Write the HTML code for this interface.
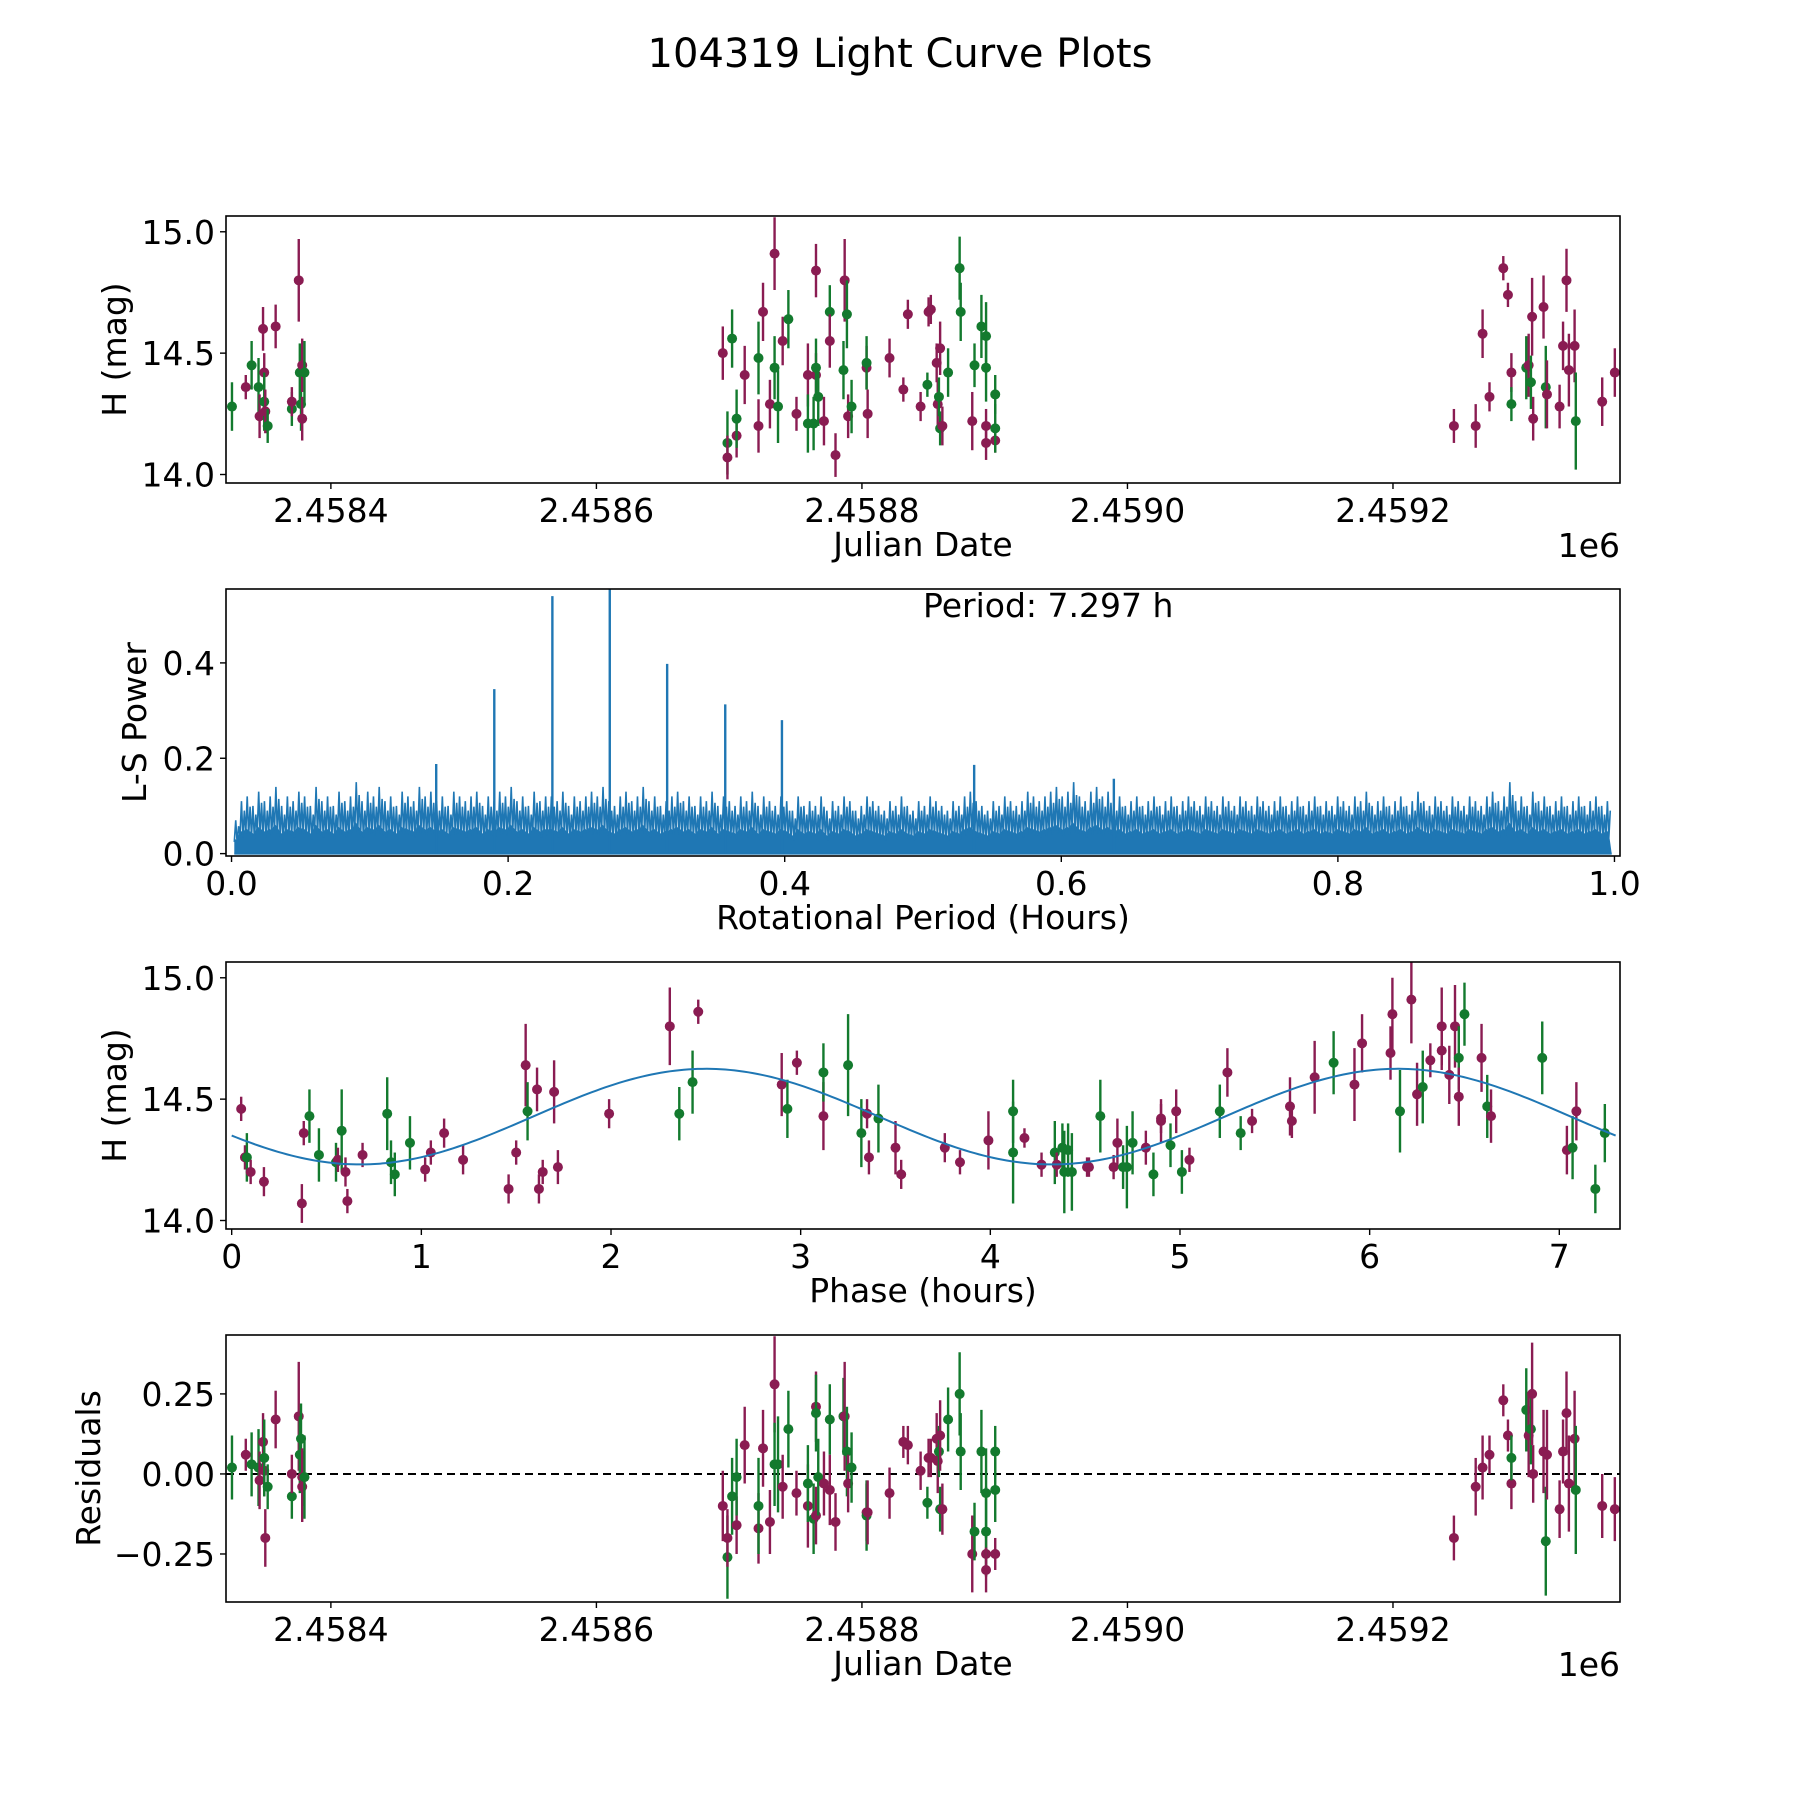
<!DOCTYPE html>
<html><head><meta charset="utf-8"><style>
html,body{margin:0;padding:0;background:#fff;}
svg{display:block;font-family:"DejaVu Sans","Liberation Sans",sans-serif;}
</style></head><body>
<svg id="fig" width="1800" height="1800" viewBox="0 0 1800 1800" xmlns="http://www.w3.org/2000/svg">
<rect width="1800" height="1800" fill="#fff"/>
<text x="900" y="67" font-size="40" text-anchor="middle">104319 Light Curve Plots</text>
</svg>
<script>
// ---- Panel 1 / 4 data: Julian date offsets (JD - 2458000), magnitudes, residuals ----
const obsJd = [325.5,335.9,340.3,345.5,346.3,348.9,349.8,349.8,350.6,352.4,358.4,370.6,370.6,375.8,376.6,377.5,378.4,378.4,380.1,
695.2,698.7,698.7,702.2,705.6,705.6,711.7,722.1,722.1,725.5,730.7,734.2,734.2,736.8,740.3,744.6,750.7,759.3,759.3,763.6,765.4,765.4,765.4,767.1,771.4,775.8,775.8,780.1,786.1,787.0,788.7,789.6,792.2,803.5,803.5,804.3,820.8,831.2,834.6,844.2,849.3,850.2,851.9,856.3,857.1,858.0,858.9,858.9,860.6,864.9,873.6,874.4,883.1,884.8,890.0,893.5,893.5,893.5,893.5,900.4,900.4,900.4,
1245.9,1262.3,1267.5,1272.7,1283.1,1286.6,1289.2,1289.2,1300.4,1302.2,1303.9,1304.8,1305.6,1313.4,1315.1,1316.0,1325.5,1328.1,1330.7,1332.5,1336.8,1337.7,1357.6,1367.1];
const obsMag = [14.28,14.36,14.45,14.36,14.24,14.60,14.42,14.30,14.26,14.20,14.61,14.27,14.30,14.80,14.42,14.29,14.23,14.45,14.42,
14.50,14.13,14.07,14.56,14.16,14.23,14.41,14.20,14.48,14.67,14.29,14.91,14.44,14.28,14.55,14.64,14.25,14.41,14.21,14.21,14.84,14.41,14.44,14.32,14.22,14.67,14.55,14.08,14.43,14.80,14.66,14.24,14.28,14.44,14.46,14.25,14.48,14.35,14.66,14.28,14.37,14.67,14.68,14.46,14.29,14.32,14.52,14.19,14.20,14.42,14.85,14.67,14.22,14.45,14.61,14.20,14.57,14.44,14.13,14.14,14.33,14.19,
14.20,14.20,14.58,14.32,14.85,14.74,14.42,14.29,14.44,14.45,14.38,14.65,14.23,14.69,14.36,14.33,14.28,14.53,14.80,14.43,14.53,14.22,14.30,14.42];
const bandMid = ["m","g","m","g","m","g","m","m","g","m","m","m","g","g","m","g","m","m","g","g","m","m","g","g","m","g","m","m","g","m","g","m","g","m","g","m","m","m","m","m","g","m","m","m","m","g","m","g","m","g","g","g","m","g","g","m","g","g","m","m","g","g"];
const bandEarly = ["g","m","g","g","m","m","m","g","m","g","m","g","m","m","g","g","m","m","g"];
const bandLate = ["m","m","m","m","m","m","m","g","g","m","g","m","m","m","g","m","m","m","m","m","m","g","m","m"];
const obsErr = [0.10,0.05,0.10,0.12,0.09,0.09,0.08,0.12,0.09,0.07,0.09,0.07,0.06,0.17,0.12,0.11,0.09,0.11,0.13,
0.11,0.13,0.09,0.12,0.09,0.12,0.12,0.11,0.15,0.12,0.10,0.15,0.13,0.15,0.10,0.12,0.07,0.13,0.12,0.11,0.11,0.09,0.12,0.12,0.10,0.11,0.11,0.09,0.12,0.17,0.14,0.09,0.11,0.09,0.11,0.10,0.08,0.05,0.06,0.06,0.05,0.06,0.06,0.08,0.10,0.08,0.11,0.07,0.08,0.10,0.13,0.12,0.12,0.09,0.13,0.07,0.14,0.14,0.07,0.05,0.08,0.10,
0.07,0.09,0.10,0.06,0.05,0.05,0.08,0.07,0.13,0.13,0.11,0.16,0.09,0.13,0.17,0.14,0.09,0.10,0.13,0.15,0.15,0.20,0.10,0.10];
const obsResid = [0.02,0.06,0.03,0.02,-0.02,0.10,0.01,0.05,-0.20,-0.04,0.17,-0.07,0.00,0.18,0.06,0.11,-0.01,-0.04,-0.01,
-0.10,-0.26,-0.20,-0.07,-0.16,-0.01,0.09,-0.17,-0.10,0.08,-0.15,0.28,0.03,0.03,-0.04,0.14,-0.06,-0.10,-0.03,-0.14,0.21,-0.13,0.19,-0.01,-0.03,0.17,-0.05,-0.15,0.18,0.18,0.07,-0.03,0.02,-0.12,-0.13,-0.12,-0.06,0.10,0.09,0.01,-0.09,0.05,0.05,0.11,0.04,0.07,0.12,-0.11,-0.11,0.17,0.25,0.07,-0.25,-0.18,0.07,-0.25,-0.06,-0.18,-0.30,-0.25,0.07,-0.05,
-0.20,-0.04,0.02,0.06,0.23,0.12,-0.03,0.05,0.20,0.12,0.14,0.25,0.00,0.07,-0.21,0.06,-0.11,0.07,0.19,-0.03,0.11,-0.05,-0.10,-0.11];

// ---- Panel 2 data: periodogram ----
const noisePower = [.07,.11,.12,.10,.13,.11,.12,.14,.10,.12,.11,.13,.12,.10,.14,.11,.12,.10,.13,.11,
.12,.15,.11,.13,.12,.14,.11,.12,.10,.13,.12,.11,.14,.12,.13,.11,.12,.10,.13,.12,
.11,.12,.13,.10,.12,.11,.13,.12,.14,.11,.12,.10,.13,.11,.12,.12,.11,.13,.10,.12,
.11,.12,.13,.12,.14,.11,.10,.12,.13,.11,.12,.14,.11,.12,.10,.11,.12,.13,.11,.12,
.10,.12,.11,.13,.10,.12,.11,.10,.12,.11,.13,.10,.12,.11,.10,.12,.11,.09,.12,.10,
.11,.10,.12,.09,.11,.10,.12,.11,.09,.10,.12,.11,.10,.09,.11,.10,.12,.10,.09,.11,
.10,.12,.11,.10,.09,.11,.10,.12,.13,.11,.10,.09,.11,.10,.12,.11,.10,.11,.13,.12,
.11,.12,.13,.14,.12,.13,.15,.12,.11,.13,.14,.12,.13,.11,.12,.10,.11,.12,.10,.11,
.12,.10,.11,.12,.10,.11,.12,.11,.10,.12,.11,.10,.12,.11,.10,.12,.11,.10,.12,.11,
.10,.11,.12,.10,.11,.12,.10,.11,.12,.10,.11,.10,.12,.11,.10,.12,.11,.13,.10,.11,
.12,.10,.11,.12,.10,.11,.13,.11,.10,.12,.11,.10,.12,.11,.10,.12,.11,.10,.12,.13,
.11,.12,.15,.11,.12,.10,.13,.11,.12,.10,.11,.12,.10,.11,.12,.10,.11,.12,.10,.11];
const peakPeriod = [0.148,0.190,0.232,0.2735,0.315,0.357,0.398,0.537,0.638];
const peakPower = [0.188,0.345,0.54,0.60,0.398,0.313,0.28,0.186,0.157];
const bestPeriodLabel = ["Period: 7.297 h"];

// ---- Panel 3 data: phased curve ----
const phaseHours = [0.05,0.07,0.08,0.10,0.17,0.37,0.38,0.41,0.46,0.55,0.56,0.58,0.60,0.61,0.69,0.82,0.84,0.86,0.94,1.02,1.05,1.12,1.22,1.46,1.50,1.55,1.56,1.61,1.62,1.64,1.70,1.72,1.99,2.31,2.36,2.43,2.46,2.90,2.93,2.98,3.12,3.12,3.25,3.32,3.35,3.36,3.41,3.50,3.53,3.76,3.84,3.99,4.12,4.12,4.18,4.27,4.34,4.35,4.38,4.39,4.41,4.43,4.51,4.52,4.58,4.65,4.67,4.70,4.72,4.75,4.82,4.86,4.90,4.90,4.95,4.98,5.01,5.05,5.21,5.25,5.32,5.38,5.58,5.59,5.71,5.81,5.92,5.96,6.11,6.12,6.16,6.22,6.25,6.28,6.32,6.38,6.38,6.42,6.45,6.47,6.47,6.50,6.59,6.62,6.64,6.91,7.04,7.07,7.09,7.19,7.24];
const phaseMag = [14.46,14.26,14.26,14.20,14.16,14.07,14.36,14.43,14.27,14.24,14.25,14.37,14.20,14.08,14.27,14.44,14.24,14.19,14.32,14.21,14.28,14.36,14.25,14.13,14.28,14.64,14.45,14.54,14.13,14.20,14.53,14.22,14.44,14.80,14.44,14.57,14.86,14.56,14.46,14.65,14.43,14.61,14.64,14.36,14.44,14.26,14.42,14.30,14.19,14.30,14.24,14.33,14.28,14.45,14.34,14.23,14.28,14.23,14.30,14.20,14.29,14.20,14.22,14.22,14.43,14.22,14.32,14.22,14.22,14.32,14.30,14.19,14.41,14.42,14.31,14.45,14.20,14.25,14.45,14.61,14.36,14.41,14.47,14.41,14.59,14.65,14.56,14.73,14.69,14.85,14.45,14.91,14.52,14.55,14.66,14.80,14.70,14.60,14.80,14.67,14.51,14.85,14.67,14.47,14.43,14.67,14.29,14.30,14.45,14.13,14.36];
const phaseBand = ["m","m","g","m","m","m","m","g","g","g","m","g","m","m","m","g","g","g","g","m","m","m","m","m","m","m","g","m","m","m","m","m","m","m","g","g","m","m","g","m","m","g","g","g","m","m","g","m","m","m","m","m","g","g","m","m","g","m","g","g","g","g","m","m","g","m","m","g","g","g","m","g","m","m","g","m","g","m","g","m","g","m","m","m","m","g","m","m","m","m","g","m","m","g","m","m","m","m","m","g","m","g","m","g","m","g","m","g","m","g","g"];
const phaseErr = [0.05,0.05,0.10,0.05,0.06,0.08,0.05,0.11,0.11,0.08,0.05,0.17,0.06,0.05,0.05,0.15,0.09,0.09,0.11,0.05,0.05,0.06,0.06,0.06,0.05,0.17,0.12,0.09,0.06,0.05,0.13,0.07,0.06,0.16,0.11,0.13,0.05,0.13,0.12,0.05,0.14,0.12,0.21,0.14,0.06,0.07,0.14,0.11,0.06,0.06,0.05,0.12,0.21,0.13,0.04,0.05,0.13,0.05,0.10,0.17,0.11,0.16,0.04,0.04,0.15,0.05,0.10,0.09,0.17,0.13,0.07,0.09,0.09,0.06,0.09,0.09,0.09,0.05,0.11,0.10,0.07,0.05,0.12,0.07,0.15,0.13,0.15,0.12,0.11,0.15,0.17,0.18,0.13,0.15,0.07,0.16,0.08,0.12,0.17,0.13,0.12,0.13,0.14,0.13,0.11,0.15,0.10,0.13,0.12,0.10,0.12];
const fitMean = [14.428];
const fitAmplitude = [0.197];
const fitHalfPeriod = [3.6485];
const fitPeakPhase = [2.5];
const fitSpan = [0, 7.297];

// ---- Tick labels ----
const jdTicks = [400,600,800,1000,1200];
const jdTickLabels = ["2.4584","2.4586","2.4588","2.4590","2.4592"];
const magTicks = [14.0,14.5,15.0];
const magTickLabels = ["14.0","14.5","15.0"];
const powerTicks = [0.0,0.2,0.4];
const powerTickLabels = ["0.0","0.2","0.4"];
const periodTicks = [0.0,0.2,0.4,0.6,0.8,1.0];
const periodTickLabels = ["0.0","0.2","0.4","0.6","0.8","1.0"];
const phaseTicks = [0,1,2,3,4,5,6,7];
const phaseTickLabels = ["0","1","2","3","4","5","6","7"];
const residTicks = [-0.25,0.0,0.25];
const residTickLabels = ["\u22120.25","0.00","0.25"];

const NS = "http://www.w3.org/2000/svg";
const svg = document.getElementById("fig");
const COL = {m:"#8a1c52", g:"#137a2e"};
const AX_L = 226, AX_R = 1620, AX_H = 267;
const FS = 33;
function mk(tag, attrs, parent){ const e=document.createElementNS(NS,tag); for(const k in attrs) e.setAttribute(k,attrs[k]); (parent||svg).appendChild(e); return e; }
function lin(d0,d1,r0,r1){ return v => r0 + (v-d0)/(d1-d0)*(r1-r0); }

function makeAxes(idx, name, xd, yd){
  const top = 216 + 373*idx;
  const g = mk("g",{});
  
  
  const clip = mk("clipPath",{id:"clip"+idx}, g);
  mk("rect",{x:AX_L,y:top,width:AX_R-AX_L,height:AX_H}, clip);
  const plot = mk("g",{"clip-path":"url(#clip"+idx+")"}, g);
  
  
  return {g, plot, top, x: lin(xd[0],xd[1],AX_L,AX_R), y: lin(yd[0],yd[1],top+AX_H,top)};
}
function frame(ax){
  const r = mk("rect",{x:AX_L,y:ax.top,width:AX_R-AX_L,height:AX_H,fill:"none",stroke:"#000","stroke-width":1.6}, ax.g);
  
  
}
function xTicks(ax, vals, labels, name){
  const b = ax.top+AX_H;
  vals.forEach((v,i)=>{
    const x = ax.x(v);
    mk("line",{x1:x,x2:x,y1:b,y2:b+6,stroke:"#000","stroke-width":1.4}, ax.g);
    const t = mk("text",{x:x,y:b+39,"font-size":FS,"text-anchor":"middle"}, ax.g);
    t.textContent = labels[i];
    
    
  });
}
function yTicks(ax, vals, labels, name){
  vals.forEach((v,i)=>{
    const y = ax.y(v);
    mk("line",{x1:AX_L-6,x2:AX_L,y1:y,y2:y,stroke:"#000","stroke-width":1.4}, ax.g);
    const t = mk("text",{x:AX_L-11,y:y+12,"font-size":FS,"text-anchor":"end"}, ax.g);
    t.textContent = labels[i];
    
    
  });
}
function xLabel(ax, text, name, yOff){
  const t = mk("text",{x:(AX_L+AX_R)/2,y:ax.top+AX_H+yOff,"font-size":FS,"text-anchor":"middle"}, ax.g);
  t.textContent = text;
  
  
}
function yLabel(ax, text, name, x){
  const cy = ax.top+AX_H/2;
  const t = mk("text",{x:x,y:cy,"font-size":FS,"text-anchor":"middle",transform:"rotate(-90 "+x+" "+cy+")"}, ax.g);
  t.textContent = text;
  
  
}
function offsetLabel(ax, name){
  const t = mk("text",{x:AX_R,y:ax.top+AX_H+74,"font-size":FS,"text-anchor":"end"}, ax.g);
  t.textContent = "1e6";
  
  
}
function errPoints(ax, xs, ys, es, bands, name){
  xs.forEach((xv,i)=>{
    const c = COL[bands[i]];
    const x = ax.x(xv), y = ax.y(ys[i]);
    const l = mk("line",{x1:x,x2:x,y1:ax.y(ys[i]-es[i]),y2:ax.y(ys[i]+es[i]),stroke:c,"stroke-width":2.4}, ax.plot);
    
    
    const d = mk("circle",{cx:x,cy:y,r:5,fill:c}, ax.plot);
    
    
  });
}
const allBands = bandEarly.concat(bandMid, bandLate);

// Panel 1
const a1 = makeAxes(0, "light-curve-panel", [321,1371], [13.965,15.065]);
errPoints(a1, obsJd, obsMag, obsErr, allBands, "observation");
frame(a1); xTicks(a1, jdTicks, jdTickLabels, "julian-date"); yTicks(a1, magTicks, magTickLabels, "magnitude");
xLabel(a1, "Julian Date", "x-axis-title-julian-date", 73); yLabel(a1, "H (mag)", "y-axis-title-magnitude", 126);
offsetLabel(a1, "x-axis-offset-1e6");

// Panel 2
const a2 = makeAxes(1, "periodogram-panel", [-0.004,1.004], [-0.005,0.555]);
const nb = noisePower.length;
let fillPts = [[a2.x(0.002), a2.y(0)].join(",")];
let zig = [];
noisePower.forEach((v,i)=>{
  const x0 = 0.002 + (i/nb)*0.996, x1 = 0.002 + ((i+0.5)/nb)*0.996, x2 = 0.002 + ((i+1)/nb)*0.996;
  zig.push(a2.x(x0)+","+a2.y(v*0.35));
  zig.push(a2.x(x0+(x1-x0)*0.5)+","+a2.y(v));
  zig.push(a2.x(x1)+","+a2.y(v*0.3));
  zig.push(a2.x(x1+(x2-x1)*0.5)+","+a2.y(v*0.82));
  fillPts.push(a2.x(x0)+","+a2.y(v*0.45));
  fillPts.push(a2.x(x1)+","+a2.y(v*0.4));
});
fillPts.push(a2.x(0.998)+","+a2.y(0));
const pf = mk("polygon",{points:fillPts.join(" "),fill:"#1f77b4"}, a2.plot);


const pl = mk("polyline",{points:zig.join(" "),fill:"none",stroke:"#1f77b4","stroke-width":1.6}, a2.plot);


const base = mk("line",{x1:a2.x(0.002),x2:a2.x(0.998),y1:a2.y(0),y2:a2.y(0),stroke:"#1f77b4","stroke-width":2}, a2.plot);


peakPeriod.forEach((p,i)=>{
  const x = a2.x(p);
  const l = mk("line",{x1:x,x2:x,y1:a2.y(0),y2:a2.y(peakPower[i]),stroke:"#1f77b4","stroke-width":2.4}, a2.plot);
  
  
});
frame(a2); xTicks(a2, periodTicks, periodTickLabels, "period"); yTicks(a2, powerTicks, powerTickLabels, "power");
xLabel(a2, "Rotational Period (Hours)", "x-axis-title-rotational-period", 73); yLabel(a2, "L-S Power", "y-axis-title-ls-power", 146);
const pt = mk("text",{x:a2.x(0.5),y:a2.top+28,"font-size":FS}, a2.g);
pt.textContent = bestPeriodLabel[0];



// Panel 3
const a3 = makeAxes(2, "phased-curve-panel", [-0.03,7.32], [13.965,15.065]);
errPoints(a3, phaseHours, phaseMag, phaseErr, phaseBand, "phased-observation");
let cp = [];
for(let k=0;k<=300;k++){
  const t = fitSpan[0] + (fitSpan[1]-fitSpan[0])*k/300;
  const m = fitMean[0] + fitAmplitude[0]*Math.cos(2*Math.PI*(t-fitPeakPhase[0])/fitHalfPeriod[0]);
  cp.push(a3.x(t)+","+a3.y(m));
}
const fc = mk("polyline",{points:cp.join(" "),fill:"none",stroke:"#1f77b4","stroke-width":2}, a3.plot);


frame(a3); xTicks(a3, phaseTicks, phaseTickLabels, "phase"); yTicks(a3, magTicks, magTickLabels, "phased-magnitude");
xLabel(a3, "Phase (hours)", "x-axis-title-phase", 73); yLabel(a3, "H (mag)", "y-axis-title-phased-magnitude", 126);

// Panel 4
const a4 = makeAxes(3, "residuals-panel", [321,1371], [-0.40,0.434]);
const zl = mk("line",{x1:AX_L,x2:AX_R,y1:a4.y(0),y2:a4.y(0),stroke:"#000","stroke-width":2,"stroke-dasharray":"8,5"}, a4.plot);


errPoints(a4, obsJd, obsResid, obsErr, allBands, "residual");
frame(a4); xTicks(a4, jdTicks, jdTickLabels, "residual-julian-date"); yTicks(a4, residTicks, residTickLabels, "residual");
xLabel(a4, "Julian Date", "x-axis-title-residual-julian-date", 73); yLabel(a4, "Residuals", "y-axis-title-residuals", 100);
offsetLabel(a4, "residual-x-axis-offset-1e6");
</script>
</body></html>
